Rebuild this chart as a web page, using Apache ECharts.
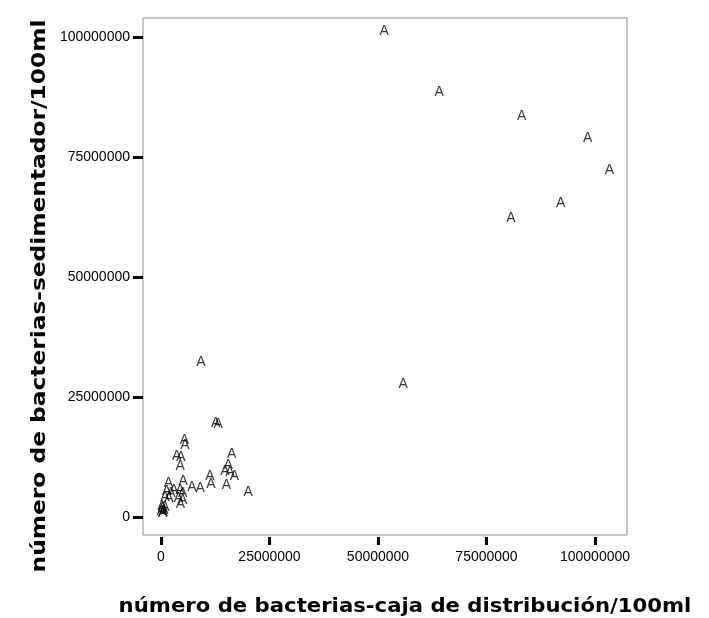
<!DOCTYPE html>
<html>
<head>
<meta charset="utf-8">
<script src="https://cdn.jsdelivr.net/npm/echarts@6/dist/echarts.min.js"></script>
<style>
  html, body { margin: 0; padding: 0; background: #fff; }
  #chart { width: 709px; height: 618px; }
</style>
</head>
<body>
<div id="chart"></div>
<script>
// Bacteria counts per 100 ml: distribution box (x) vs. sedimenter (y)
const cajaDistribucion = [
  51400000, 64100000, 83100000, 98300000, 103300000, 92100000, 80600000, 55800000, 9200000,
  12600000, 13200000, 5400000, 5500000, 3600000, 4600000, 4400000, 16300000, 15500000,
  14700000, 15900000, 16900000, 11300000, 11500000, 15100000, 7100000, 9000000, 20100000,
  5100000, 1700000, 1300000, 2300000, 3000000, 4400000, 5000000, 4000000, 5000000,
  4500000, 1800000, 900000,
  100000, 300000, 500000, 200000, 700000, 400000, 900000
];
const sedimentador = [
  101200000, 88600000, 83500000, 78900000, 72300000, 65400000, 62200000, 27700000, 32300000,
  19500000, 19300000, 16000000, 14900000, 12600000, 12400000, 10500000, 13100000, 10800000,
  9600000, 9400000, 8500000, 8600000, 6900000, 6700000, 6300000, 6000000, 5100000,
  7500000, 7000000, 5400000, 4900000, 5600000, 5600000, 4900000, 3900000, 3500000,
  2600000, 3900000, 4200000,
  1200000, 1800000, 1000000, 2200000, 1500000, 900000, 2000000
];
const tickValues = [0, 25000000, 50000000, 75000000, 100000000];
const xTitle = 'número de bacterias-caja de distribución/100ml';
const yTitle = 'número de bacterias-sedimentador/100ml';
const markerText = 'A';

const points = cajaDistribucion.map((x, i) => [x, sedimentador[i]]);

const FONT = '"Liberation Sans", Arial, sans-serif';
const TITLE_FONT = 'bold 20px "DejaVu Sans", "Liberation Sans", sans-serif';
const chart = echarts.init(document.getElementById('chart'), null, { renderer: 'canvas' });

chart.setOption({
  animation: false,
  backgroundColor: '#ffffff',
  grid: {
    left: 143, right: 82, top: 18, bottom: 83,
    show: true, borderColor: '#8a8a8a', borderWidth: 1,
    containLabel: false
  },
  xAxis: {
    type: 'value',
    min: -4147000, max: 107370000,
    offset: 2,
    axisLine: { show: false, onZero: false },
    splitLine: { show: false },
    axisTick: {
      show: true, length: 8, customValues: tickValues,
      lineStyle: { color: '#000', width: 3 }
    },
    axisLabel: {
      customValues: tickValues, margin: 13,
      color: '#000', fontSize: 14, fontFamily: FONT,
      formatter: v => String(v)
    }
  },
  yAxis: {
    type: 'value',
    min: -3750000, max: 103960000,
    axisLine: { show: false, onZero: false },
    splitLine: { show: false },
    axisTick: {
      show: true, length: 10, customValues: tickValues,
      lineStyle: { color: '#000', width: 3 }
    },
    axisLabel: {
      customValues: tickValues, margin: 13,
      color: '#000', fontSize: 14, fontFamily: FONT,
      formatter: v => String(v)
    }
  },
  graphic: [
    {
      type: 'text', x: 405, y: 607, scaleX: 1.06,
      style: {
        text: xTitle, fill: '#000', font: TITLE_FONT,
        textAlign: 'center', textVerticalAlign: 'middle'
      }
    },
    {
      type: 'text', x: 40, y: 296, rotation: Math.PI / 2, scaleX: 1.165,
      style: {
        text: yTitle, fill: '#000', font: TITLE_FONT,
        textAlign: 'center', textVerticalAlign: 'middle'
      }
    }
  ],
  series: [{
    type: 'scatter',
    data: points,
    symbol: 'circle',
    symbolSize: 1,
    itemStyle: { color: 'rgba(0,0,0,0)' },
    label: {
      show: true, position: 'inside', formatter: markerText,
      color: '#000', fontSize: 14, fontFamily: FONT
    },
    emphasis: { disabled: true }
  }]
});
</script>
</body>
</html>
